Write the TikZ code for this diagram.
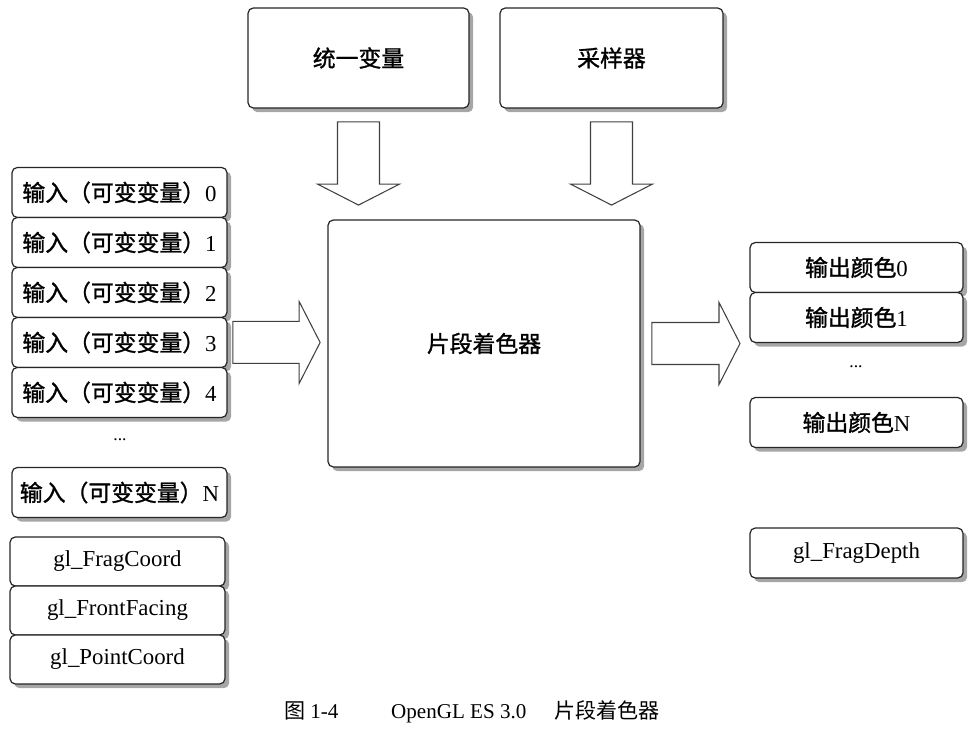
\documentclass[tikz,border=0pt]{standalone}
\usepackage{fontspec}
\setmainfont{Liberation Serif}
\newfontfamily\cjk{Noto Sans CJK SC}
\newfontfamily\cjkm[FakeBold=1.2]{Noto Sans CJK SC}
\usepackage{tikz}
\usetikzlibrary{positioning,calc,shadows}

\begin{document}
\begin{tikzpicture}[x=0.02cm,y=-0.02cm,
		box/.style={draw=black!85, line width=0.7pt, fill=white, rounded corners=3pt,
			outer sep=0pt, inner sep=0pt, font=\fontsize{13}{15}\selectfont,
			drop shadow={shadow xshift=2.4pt, shadow yshift=-2.4pt, opacity=0.7}},
		slot/.style={box, minimum width=4.3cm, minimum height=1cm},
		fat/.style={draw=black!75, line width=0.6pt, fill=white,
			to path={($(\tikztotarget)!0.42cm!(\tikztostart)$) coordinate (fh)
				($(\tikztostart)!0.42cm!90:(\tikztotarget)$)
				-- ($(fh)!0.42cm!90:(\tikztotarget)$)
				-- ($(fh)!0.82cm!90:(\tikztotarget)$)
				-- (\tikztotarget)
				-- ($(fh)!0.82cm!-90:(\tikztotarget)$)
				-- ($(fh)!0.42cm!-90:(\tikztotarget)$)
				-- ($(\tikztostart)!0.42cm!-90:(\tikztotarget)$) -- cycle}}]
		\useasboundingbox (0,0) rectangle (979,742);
		\node[box, minimum width=4.42cm, minimum height=2cm] (UNI) at (358.5,58) {{\cjkm 统一变量}};
		\node[box, minimum width=4.46cm, minimum height=2cm] (SMP) at (611.5,58) {{\cjkm 采样器}};
		\node[box, minimum width=6.24cm, minimum height=4.94cm] (FS) at (484,343.5) {{\cjkm 片段着色器}};
		%
		\node[slot] (IN0) at (119.5,192.5) {{\cjkm 输入（可变变量）}0};
		\node[slot, below=0pt of IN0] (IN1) {{\cjkm 输入（可变变量）}1};
		\node[slot, below=0pt of IN1] (IN2) {{\cjkm 输入（可变变量）}2};
		\node[slot, below=0pt of IN2] (IN3) {{\cjkm 输入（可变变量）}3};
		\node[slot, below=0pt of IN3] (IN4) {{\cjkm 输入（可变变量）}4};
		\node (ID) at (120,440) {...};
		\node[slot] (INN) at (119.5,492.5) {{\cjkm 输入（可变变量）}N};
		\node[slot, minimum height=0.98cm] (FC) at (117.5,561.5) {gl\_FragCoord};
		\node[slot, minimum height=0.98cm, below=0pt of FC] (FF) {gl\_FrontFacing};
		\node[slot, minimum height=0.98cm, below=0pt of FF] (PC) {gl\_PointCoord};
		%
		\node[slot, minimum width=4.26cm] (OUT0) at (856.5,267.5) {{\cjkm 输出颜色}0};
		\node[slot, minimum width=4.26cm, below=0pt of OUT0] (OUT1) {{\cjkm 输出颜色}1};
		\node (OD) at (856,367) {...};
		\node[slot, minimum width=4.26cm] (OUTN) at (856.5,422.5) {{\cjkm 输出颜色}N};
		\node[slot, minimum width=4.26cm] (FD) at (856.5,553) {gl\_FragDepth};
		%
		\node[font=\fontsize{12}{14}\selectfont] (CAP) at (472,712)
			{{\cjk 图} 1-4\hspace{30pt}OpenGL ES 3.0\hspace{16pt}{\cjk 片段着色器}};
		%
		\path[fat]
		([yshift=-7.9pt]UNI.south) to ([yshift=8.5pt]UNI.south |- FS.north)
		([yshift=-7.9pt]SMP.south) to ([yshift=8.5pt]SMP.south |- FS.north)
		([xshift=3.4pt]IN3.east) to ([xshift=-4.5pt]IN3.east -| FS.west)
		([xshift=6.8pt]FS.east) to ([xshift=-5.7pt]FS.east -| OUT0.west);
\end{tikzpicture}
\end{document}
